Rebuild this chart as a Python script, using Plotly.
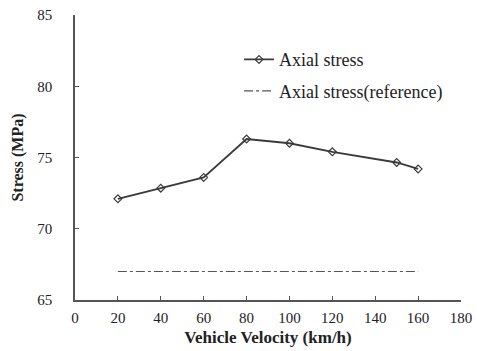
import plotly.graph_objects as go

velocity = [20, 40, 60, 80, 100, 120, 150, 160]
axial_stress = [72.1, 72.85, 73.6, 76.3, 76.0, 75.4, 74.65, 74.2]
reference_stress = [67.0, 67.0, 67.0, 67.0, 67.0, 67.0, 67.0, 67.0]
x_ticks = [0, 20, 40, 60, 80, 100, 120, 140, 160, 180]
y_ticks = [65, 70, 75, 80, 85]

FONT = "Liberation Serif"
LINE = "#3a3a3a"

fig = go.Figure()
fig.add_trace(go.Scatter(
    x=velocity, y=axial_stress, mode="lines+markers", name="Axial stress",
    legendgroup="a",
    line=dict(color=LINE, width=1.8),
    marker=dict(symbol="diamond-open", size=6, color=LINE, line=dict(width=1.2, color=LINE)),
))
fig.add_trace(go.Scatter(
    x=velocity, y=reference_stress, mode="lines", name="Axial stress(reference)",
    legendgroup="b",
    line=dict(color="#555555", width=1.2, dash="dashdot"),
))

fig.update_layout(
    width=477, height=351,
    margin=dict(l=75, r=16, t=15, b=51),
    paper_bgcolor="white", plot_bgcolor="white",
    font=dict(family=FONT, color="#222222", size=15),
    legend=dict(x=0.425, y=0.908, xanchor="left", yanchor="top",
                bgcolor="rgba(0,0,0,0)", font=dict(size=18, family=FONT),
                tracegroupgap=5, traceorder="grouped", itemwidth=30),
    showlegend=True,
)
fig.update_xaxes(
    range=[0, 180], tickvals=x_ticks, ticks="inside", ticklen=4, tickcolor="#555",
    showline=True, linecolor="#555", linewidth=1.5, showgrid=False, zeroline=False,
    title=dict(text="<b>Vehicle Velocity (km/h)</b>", font=dict(size=17, family=FONT), standoff=6),
    tickfont=dict(size=15, family=FONT), ticklabelstandoff=3, automargin=False,
)
fig.update_yaxes(
    range=[65, 85], tickvals=y_ticks, ticks="inside", ticklen=4, tickcolor="#555",
    showline=True, linecolor="#555", linewidth=1.5, showgrid=False, zeroline=False,
    title=dict(text="<b>Stress (MPa)</b>", font=dict(size=16, family=FONT), standoff=10),
    tickfont=dict(size=15, family=FONT), ticklabelstandoff=18, automargin=False,
)

fig.write_html("out.html")
